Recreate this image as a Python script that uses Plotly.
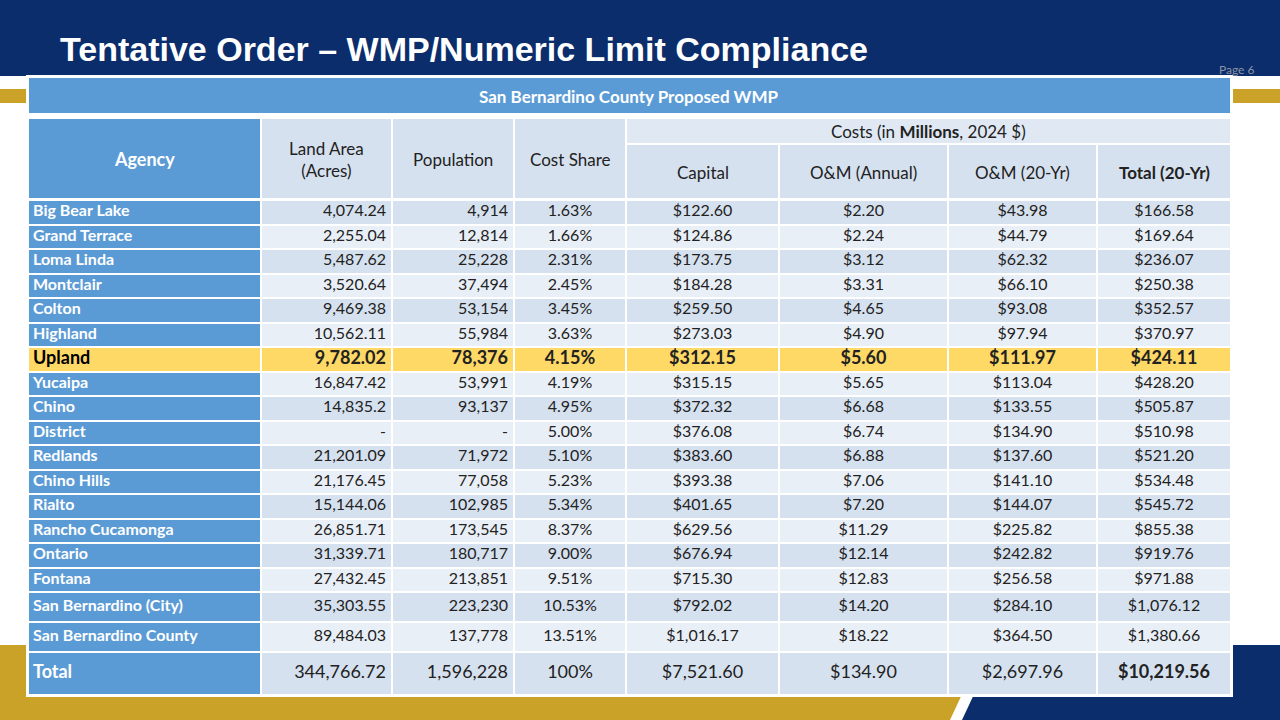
import plotly.graph_objects as go

agencies = ["Big Bear Lake", "Grand Terrace", "Loma Linda", "Montclair", "Colton", "Highland",
            "Upland", "Yucaipa", "Chino", "District", "Redlands", "Chino Hills", "Rialto",
            "Rancho Cucamonga", "Ontario", "Fontana", "San Bernardino (City)", "San Bernardino County"]
land_area = ["4,074.24", "2,255.04", "5,487.62", "3,520.64", "9,469.38", "10,562.11", "9,782.02",
             "16,847.42", "14,835.2", "-", "21,201.09", "21,176.45", "15,144.06", "26,851.71",
             "31,339.71", "27,432.45", "35,303.55", "89,484.03"]
population = ["4,914", "12,814", "25,228", "37,494", "53,154", "55,984", "78,376", "53,991", "93,137",
              "-", "71,972", "77,058", "102,985", "173,545", "180,717", "213,851", "223,230", "137,778"]
cost_share = ["1.63%", "1.66%", "2.31%", "2.45%", "3.45%", "3.63%", "4.15%", "4.19%", "4.95%", "5.00%",
              "5.10%", "5.23%", "5.34%", "8.37%", "9.00%", "9.51%", "10.53%", "13.51%"]
capital = ["$122.60", "$124.86", "$173.75", "$184.28", "$259.50", "$273.03", "$312.15", "$315.15",
           "$372.32", "$376.08", "$383.60", "$393.38", "$401.65", "$629.56", "$676.94", "$715.30",
           "$792.02", "$1,016.17"]
om_annual = ["$2.20", "$2.24", "$3.12", "$3.31", "$4.65", "$4.90", "$5.60", "$5.65", "$6.68", "$6.74",
             "$6.88", "$7.06", "$7.20", "$11.29", "$12.14", "$12.83", "$14.20", "$18.22"]
om_20yr = ["$43.98", "$44.79", "$62.32", "$66.10", "$93.08", "$97.94", "$111.97", "$113.04", "$133.55",
           "$134.90", "$137.60", "$141.10", "$144.07", "$225.82", "$242.82", "$256.58", "$284.10", "$364.50"]
total_20yr = ["$166.58", "$169.64", "$236.07", "$250.38", "$352.57", "$370.97", "$424.11", "$428.20",
              "$505.87", "$510.98", "$521.20", "$534.48", "$545.72", "$855.38", "$919.76", "$971.88",
              "$1,076.12", "$1,380.66"]
total_row = ["Total", "344,766.72", "1,596,228", "100%", "$7,521.60", "$134.90", "$2,697.96", "$10,219.56"]
headers = ["Agency", "Land Area<br>(Acres)", "Population", "Cost Share",
           "Capital", "O&M (Annual)", "O&M (20-Yr)", "<b>Total (20-Yr)</b>"]

W, H = 1280, 720
BLUE = "#5b9bd5"
LIGHT1 = "#d6e1ef"
LIGHT2 = "#e9eff7"
GOLD = "#ffd966"
NAVY = "#0b2d6b"
GOLDBAND = "#c9a227"
FONT = "Lato"

# layout geometry (pixels)
col_edges = [28, 261, 392, 514, 626, 779, 948, 1097, 1231]
row_edges = [200 + 24.5 * i for i in range(17)] + [622, 652, 695]
aligns = ["left", "right", "right", "center", "center", "center", "center", "center"]

cols = [agencies, land_area, population, cost_share, capital, om_annual, om_20yr, total_20yr]
upland = agencies.index("Upland")
nrows = len(agencies) + 1

# colour classes: 0 light1, 1 light2, 2 blue, 3 gold
z = []
for r in range(nrows):
    row = []
    for c in range(8):
        if r == upland:
            row.append(3)
        elif c == 0:
            row.append(2)
        elif r == nrows - 1:
            row.append(0)
        else:
            row.append(0 if r % 2 == 0 else 1)
    z.append(row)

fig = go.Figure()
fig.add_trace(go.Heatmap(
    x=col_edges, y=row_edges, z=z, zmin=0, zmax=3, showscale=False, hoverinfo="skip",
    xgap=2, ygap=2,
    colorscale=[[0, LIGHT1], [0.25, LIGHT1], [0.25, LIGHT2], [0.5, LIGHT2],
                [0.5, BLUE], [0.75, BLUE], [0.75, GOLD], [1, GOLD]]))

centers = [(row_edges[i] + row_edges[i + 1]) / 2 for i in range(nrows)]
for c in range(8):
    texts, sizes, colors = [], [], []
    for r in range(nrows):
        if r == nrows - 1:
            v = total_row[c]
            if c in (0, 7):
                v = "<b>" + v + "</b>"
            sizes.append(18)
            colors.append("white" if c == 0 else "#222")
        else:
            v = cols[c][r]
            if c == 0 or r == upland:
                v = "<b>" + v + "</b>"
            sizes.append(18 if r == upland else 16)
            colors.append(("black" if r == upland else "white") if c == 0 else "#222")
        texts.append(v)
    if aligns[c] == "left":
        xs, pos = col_edges[c] + 5, "middle right"
    elif aligns[c] == "right":
        xs, pos = col_edges[c + 1] - 6, "middle left"
    else:
        xs, pos = (col_edges[c] + col_edges[c + 1]) / 2, "middle center"
    fig.add_trace(go.Scatter(
        x=[xs] * nrows, y=centers, mode="text", text=texts, textposition=pos,
        textfont=dict(family=FONT, size=sizes, color=colors), hoverinfo="skip", showlegend=False))


def rect(x0, y0, x1, y1, fill, lw=2, layer="above"):
    return dict(type="rect", xref="x", yref="y", x0=x0, x1=x1, y0=y0, y1=y1,
                fillcolor=fill, line=dict(color="white", width=lw), layer=layer)


shapes = [
    dict(type="rect", xref="x", yref="y", x0=0, x1=W, y0=0, y1=76, fillcolor=NAVY, line_width=0, layer="below"),
    dict(type="rect", xref="x", yref="y", x0=0, x1=W, y0=89, y1=103, fillcolor=GOLDBAND, line_width=0, layer="below"),
    dict(type="path", xref="x", yref="y", path="M 0 720 L 950 720 L 985 645 L 0 645 Z",
         fillcolor=GOLDBAND, line_width=0, layer="below"),
    dict(type="path", xref="x", yref="y", path="M 962 720 L 1280 720 L 1280 645 L 997 645 Z",
         fillcolor=NAVY, line_width=0, layer="below"),
    rect(26, 75, 1233, 697, "white", 0, "below"),
    rect(28, 77, 1231, 114, BLUE),
    rect(28, 118, 261, 199, BLUE),
]
for c in range(1, 4):
    shapes.append(rect(col_edges[c], 118, col_edges[c + 1], 199, LIGHT1))
shapes.append(rect(626, 118, 1231, 144, "#dfe8f3"))
for c in range(4, 8):
    shapes.append(rect(col_edges[c], 144, col_edges[c + 1], 199, LIGHT1))

annotations = [
    dict(text="<b>Tentative Order – WMP/Numeric Limit Compliance</b>", x=58, y=49,
         xanchor="left", showarrow=False, font=dict(family="Liberation Sans", size=34, color="white")),
    dict(text="Page 6", x=1257, y=69, xanchor="right", showarrow=False,
         font=dict(family=FONT, size=12, color="#8a94a6")),
    dict(text="<b>San Bernardino County Proposed WMP</b>", x=629, y=96, showarrow=False,
         font=dict(family=FONT, size=17, color="white")),
    dict(text="Costs (in <b>Millions</b>, 2024 $)", x=928, y=131, showarrow=False,
         font=dict(family=FONT, size=17, color="#222")),
    dict(text="<b>" + headers[0] + "</b>", x=(col_edges[0] + col_edges[1]) / 2, y=159, showarrow=False,
         font=dict(family=FONT, size=18, color="white")),
]
for c in range(1, 8):
    annotations.append(dict(text=headers[c], x=(col_edges[c] + col_edges[c + 1]) / 2,
                            y=159 if c < 4 else 172, showarrow=False,
                            font=dict(family=FONT, size=17, color="#222")))

fig.update_layout(
    width=W, height=H, margin=dict(l=0, r=0, t=0, b=0), paper_bgcolor="white", plot_bgcolor="white",
    xaxis=dict(range=[0, W], visible=False, fixedrange=True),
    yaxis=dict(range=[H, 0], visible=False, fixedrange=True),
    shapes=shapes, annotations=annotations, showlegend=False)
fig.write_html("out.html", config={"displayModeBar": False},
               post_script="document.body.style.margin='0';")
